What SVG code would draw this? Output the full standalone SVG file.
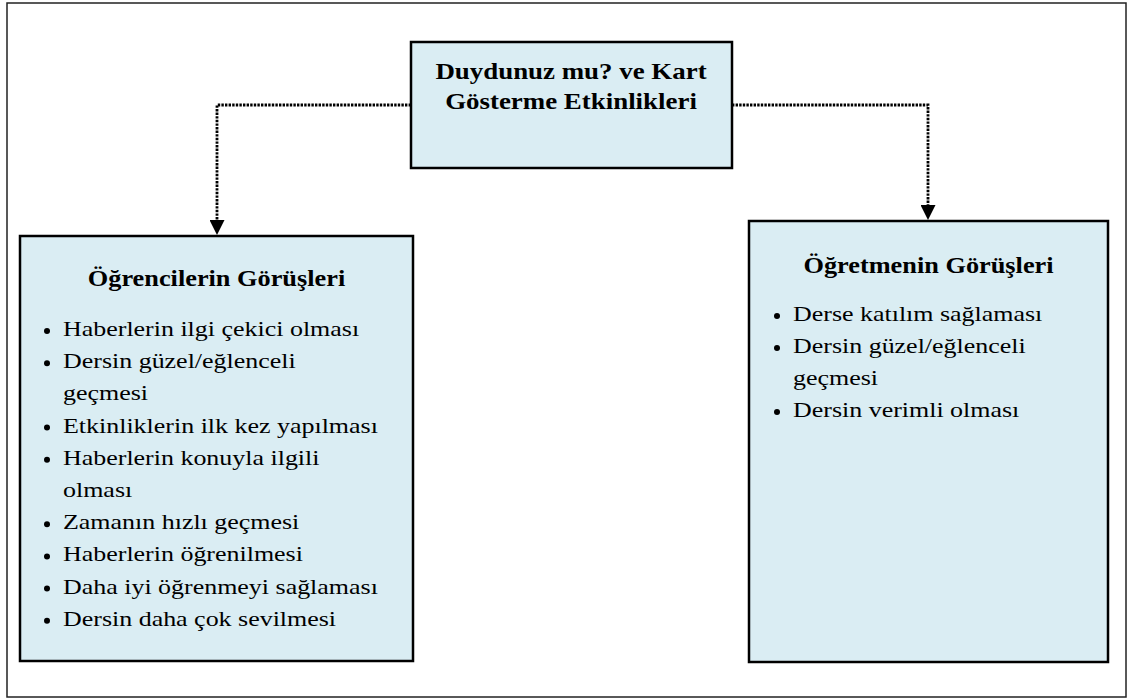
<svg xmlns="http://www.w3.org/2000/svg" width="1128" height="700" viewBox="0 0 1128 700">
<defs>
<style>
.box{fill:#DAEDF3;stroke:#000;stroke-width:2.5}
.frame{fill:#fff;stroke:#222;stroke-width:1.5}
.conn{fill:none;stroke:#000;stroke-width:2.8;stroke-dasharray:2.4 1.2}
.t{font-family:"Liberation Serif","Times New Roman",serif;fill:#000}
.h{font-size:22.5px;font-weight:bold;text-anchor:middle}
.top{font-size:23px;font-weight:bold;text-anchor:middle}
.b{font-size:22px}
.dot{fill:#000}
</style>
<marker id="arr" markerUnits="userSpaceOnUse" markerWidth="15" markerHeight="15" refX="0" refY="7.5" orient="auto" viewBox="0 0 15 15">
<path d="M0,0 L15,7.5 L0,15 z" fill="#000"/>
</marker>
</defs>
<rect class="frame" x="7" y="3" width="1119" height="694"/>
<g id="connectors">
<path class="conn" d="M411,105 H217 V220" marker-end="url(#arr)"/>
<path class="conn" d="M732,105 H928 V205" marker-end="url(#arr)"/>
</g>
<g id="node-top">
<rect class="box" x="411" y="42" width="321" height="126"/>
<text class="t top" transform="translate(571,79) scale(1.17,1)">Duydunuz mu? ve Kart</text>
<text class="t top" transform="translate(571,109) scale(1.17,1)">Gösterme Etkinlikleri</text>
</g>
<g id="node-ogrenciler">
<rect class="box" x="20" y="236" width="393" height="425"/>
<text class="t h" transform="translate(216.5,286) scale(1.17,1)">Öğrencilerin Görüşleri</text>
<circle class="dot" cx="47" cy="331" r="3"/>
<text class="t b" transform="translate(63,336) scale(1.18,1)">Haberlerin ilgi çekici olması</text>
<circle class="dot" cx="47" cy="363.2" r="3"/>
<text class="t b" transform="translate(63,368.2) scale(1.18,1)">Dersin güzel/eğlenceli</text>
<text class="t b" transform="translate(63,400.4) scale(1.18,1)">geçmesi</text>
<circle class="dot" cx="47" cy="427.6" r="3"/>
<text class="t b" transform="translate(63,432.6) scale(1.18,1)">Etkinliklerin ilk kez yapılması</text>
<circle class="dot" cx="47" cy="459.8" r="3"/>
<text class="t b" transform="translate(63,464.8) scale(1.18,1)">Haberlerin konuyla ilgili</text>
<text class="t b" transform="translate(63,497) scale(1.18,1)">olması</text>
<circle class="dot" cx="47" cy="524.2" r="3"/>
<text class="t b" transform="translate(63,529.2) scale(1.18,1)">Zamanın hızlı geçmesi</text>
<circle class="dot" cx="47" cy="556.4" r="3"/>
<text class="t b" transform="translate(63,561.4) scale(1.18,1)">Haberlerin öğrenilmesi</text>
<circle class="dot" cx="47" cy="588.6" r="3"/>
<text class="t b" transform="translate(63,593.6) scale(1.18,1)">Daha iyi öğrenmeyi sağlaması</text>
<circle class="dot" cx="47" cy="620.8" r="3"/>
<text class="t b" transform="translate(63,625.8) scale(1.18,1)">Dersin daha çok sevilmesi</text>
</g>
<g id="node-ogretmen">
<rect class="box" x="749" y="221" width="359" height="441"/>
<text class="t h" transform="translate(928.5,273) scale(1.17,1)">Öğretmenin Görüşleri</text>
<circle class="dot" cx="777" cy="316" r="3"/>
<text class="t b" transform="translate(793,321) scale(1.18,1)">Derse katılım sağlaması</text>
<circle class="dot" cx="777" cy="348" r="3"/>
<text class="t b" transform="translate(793,353) scale(1.18,1)">Dersin güzel/eğlenceli</text>
<text class="t b" transform="translate(793,385) scale(1.18,1)">geçmesi</text>
<circle class="dot" cx="777" cy="412" r="3"/>
<text class="t b" transform="translate(793,417) scale(1.18,1)">Dersin verimli olması</text>
</g>
</svg>
